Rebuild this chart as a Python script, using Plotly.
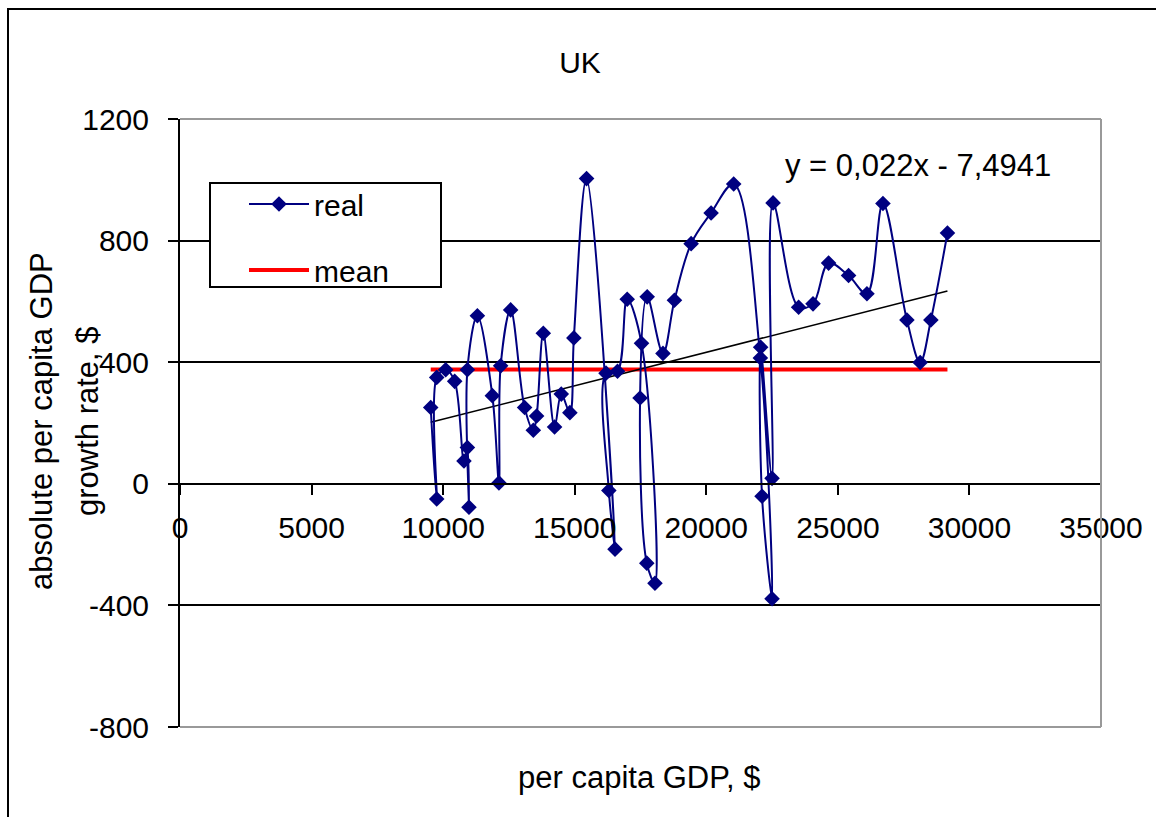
import numpy as np
import plotly.graph_objects as go

# Per capita GDP ($) and its absolute year-on-year growth ($), in time order
gdp_per_capita = [
    9528, 9756, 9756, 10097, 10439, 10792, 10921, 10982, 10921, 11301,
    11870, 12121, 12185, 12565, 13096, 13427, 13552, 13806, 14235, 14489,
    14816, 14968, 15450, 16532, 16297, 16190, 16626, 16995, 17538, 18050,
    17739, 17484, 17754, 18354, 18790, 19424, 20183, 21041, 22055, 22499,
    22119, 22066, 22499, 22537, 23509, 24056, 24648, 25407, 26105, 26713,
    27624, 28129, 28535, 29165,
]
growth = [
    251, -50, 350, 375, 337, 75, 119, -77, 375, 553,
    290, 3, 388, 572, 251, 176, 223, 495, 187, 295,
    234, 480, 1004, -215, -22, 364, 370, 607, 462, -327,
    -261, 282, 615, 429, 604, 790, 891, 986, 414, -378,
    -41, 449, 18, 924, 581, 592, 726, 685, 625, 922,
    539, 399, 539, 825,
]

# Linear trend as printed on the chart: y = 0,022x - 7,4941
trend_slope = 0.022
trend_intercept = -7.4941

x_ticks = [0, 5000, 10000, 15000, 20000, 25000, 30000, 35000]
y_ticks = [-800, -400, 0, 400, 800, 1200]

FONT = "Liberation Sans, Arial, sans-serif"
NAVY = "#000080"
TEXT = "#000000"

x_span = [min(gdp_per_capita), max(gdp_per_capita)]
mean_growth = float(np.mean(growth))

fig = go.Figure()

fig.add_trace(go.Scatter(
    x=x_span, y=[mean_growth, mean_growth], mode="lines", name="mean",
    line=dict(color="#ff0000", width=4), legendgroup="b", legendrank=2,
))
fig.add_trace(go.Scatter(
    x=x_span, y=[trend_slope * v + trend_intercept for v in x_span],
    mode="lines", line=dict(color="#000000", width=1.5), showlegend=False,
))
fig.add_trace(go.Scatter(
    x=gdp_per_capita, y=growth, mode="lines+markers", name="real",
    line=dict(color=NAVY, width=2, shape="spline", smoothing=1.0),
    marker=dict(symbol="diamond", size=12, color=NAVY),
    legendgroup="a", legendrank=1,
))

# plot area occupies pixels x 180..1101, y 119..727
def px_x(p):
    return (p - 180) / 921

def px_y(p):
    return (727 - p) / 608

shapes = [
    # outer chart frame
    dict(type="rect", xref="paper", yref="paper",
         x0=px_x(8), x1=px_x(1300), y0=px_y(950), y1=px_y(9),
         line=dict(color="#000000", width=2), layer="below"),
    # plot area border (top, right, bottom)
    dict(type="line", xref="paper", yref="paper", x0=0, x1=1, y0=1, y1=1,
         line=dict(color="#999999", width=2), layer="above"),
    dict(type="line", xref="paper", yref="paper", x0=1, x1=1, y0=0, y1=1,
         line=dict(color="#999999", width=2), layer="above"),
    dict(type="line", xref="paper", yref="paper", x0=0, x1=1, y0=0, y1=0,
         line=dict(color="#999999", width=2), layer="above"),
    # legend frame
    dict(type="rect", xref="paper", yref="paper",
         x0=px_x(210), x1=px_x(441), y0=px_y(287), y1=px_y(183),
         line=dict(color="#000000", width=2), fillcolor="#ffffff", layer="above"),
]

def label(text, cx, cy, angle=0, size=31):
    return dict(text=text, xref="paper", yref="paper", x=px_x(cx), y=px_y(cy),
                xanchor="center", yanchor="middle", showarrow=False,
                textangle=angle, font=dict(family=FONT, size=size, color=TEXT))

annotations = [
    label("y = 0,022x - 7,4941", 918, 165),
    label("absolute per capita GDP", 41, 421, -90),
    label("growth rate, $", 87, 421, -90),
    label("per capita GDP, $", 639, 777),
]

fig.update_layout(
    width=1156, height=817,
    margin=dict(l=180, r=55, t=119, b=90),
    paper_bgcolor="#ffffff", plot_bgcolor="#ffffff",
    font=dict(family=FONT, size=30, color=TEXT),
    title=dict(text="UK", x=580 / 1156, y=1 - 62 / 817, xanchor="center",
               yanchor="middle", font=dict(family=FONT, size=30, color=TEXT)),
    showlegend=True,
    legend=dict(x=px_x(244), y=px_y(178), xanchor="left", yanchor="top",
                bgcolor="rgba(0,0,0,0)", borderwidth=0, tracegroupgap=24,
                itemwidth=60, font=dict(family=FONT, size=30, color=TEXT)),
    shapes=shapes,
    annotations=annotations,
    xaxis=dict(range=[0, 35000], tickvals=x_ticks, ticktext=[str(v) for v in x_ticks],
               showgrid=False, zeroline=False, showline=True, linecolor="#000000",
               linewidth=2, anchor="free", position=0.4, ticks="outside",
               ticklen=10, tickwidth=2, tickcolor="#000000", ticklabelstandoff=7,
               tickfont=dict(family=FONT, size=30, color=TEXT)),
    yaxis=dict(range=[-800, 1200], tickvals=y_ticks, ticktext=[str(v) for v in y_ticks],
               showgrid=True, gridcolor="#000000", gridwidth=1.5, zeroline=False,
               showline=True, linecolor="#000000", linewidth=2, ticks="outside",
               ticklen=10, tickwidth=2, tickcolor="#000000", ticklabelstandoff=13,
               tickfont=dict(family=FONT, size=30, color=TEXT)),
)

fig.write_html("out.html")
